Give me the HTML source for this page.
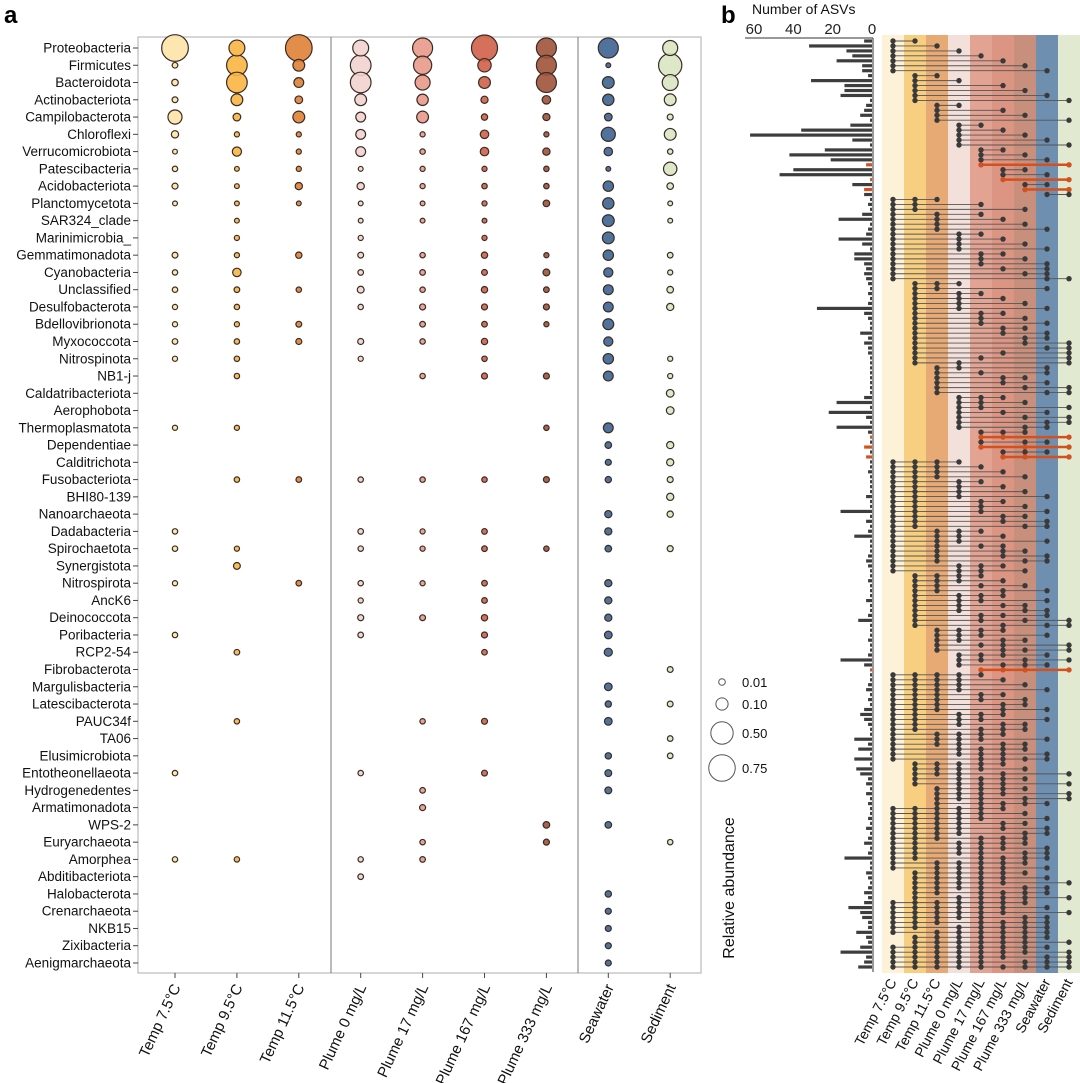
<!DOCTYPE html>
<html><head><meta charset="utf-8">
<style>
html,body{margin:0;padding:0;background:#fff;}
svg{display:block;font-family:"Liberation Sans",sans-serif;}
</style></head>
<body>
<svg id="chart" width="1080" height="1083" viewBox="0 0 1080 1083" xmlns="http://www.w3.org/2000/svg">
<text x="4" y="23" font-size="24" font-weight="bold">a</text>
<text x="721" y="23" font-size="24" font-weight="bold">b</text>
<g id="pa"></g>
<g id="pb"></g>
</svg>
<script>
const phyla = ["Proteobacteria","Firmicutes","Bacteroidota","Actinobacteriota","Campilobacterota","Chloroflexi","Verrucomicrobiota","Patescibacteria","Acidobacteriota","Planctomycetota","SAR324_clade","Marinimicrobia_","Gemmatimonadota","Cyanobacteria","Unclassified","Desulfobacterota","Bdellovibrionota","Myxococcota","Nitrospinota","NB1-j","Caldatribacteriota","Aerophobota","Thermoplasmatota","Dependentiae","Calditrichota","Fusobacteriota","BHI80-139","Nanoarchaeota","Dadabacteria","Spirochaetota","Synergistota","Nitrospirota","AncK6","Deinococcota","Poribacteria","RCP2-54","Fibrobacterota","Margulisbacteria","Latescibacterota","PAUC34f","TA06","Elusimicrobiota","Entotheonellaeota","Hydrogenedentes","Armatimonadota","WPS-2","Euryarchaeota","Amorphea","Abditibacteriota","Halobacterota","Crenarchaeota","NKB15","Zixibacteria","Aenigmarchaeota"];
const samples = ["Temp 7.5°C","Temp 9.5°C","Temp 11.5°C","Plume 0 mg/L","Plume 17 mg/L","Plume 167 mg/L","Plume 333 mg/L","Seawater","Sediment"];
const abundance = [
[.76,.21,.76,.21,.38,.72,.38,.38,.18],
[.004,.41,.09,.41,.30,.13,.38,.001,.55],
[.01,.41,.05,.41,.18,.09,.38,.09,.21],
[.005,.09,.02,.09,.08,.015,.03,.08,.09],
[.15,.02,.09,.05,.09,.008,.015,.02,.006],
[.016,.002,.002,.05,.002,.03,.002,.15,.09],
[.001,.04,.002,.05,.003,.03,.016,.03,.003],
[.003,.001,.002,.001,.002,.002,.003,.001,.13],
[.006,.001,.016,.016,.002,.003,.003,.06,.01],
[.001,.001,.001,.001,.001,.002,.01,.08,.001],
[0,.001,0,.001,.001,.001,0,.09,.001],
[0,.002,0,.002,0,.002,0,.09,0],
[.005,.002,.008,.005,.003,.008,.002,.06,.004],
[.003,.03,0,.004,.004,.005,.012,.04,.002],
[.003,.004,.003,.012,.003,.008,.004,.05,.01],
[.002,.003,0,.003,.006,.006,.006,.05,.015],
[.002,.002,.005,0,.004,.004,.002,.07,0],
[.004,.003,.006,.006,.003,.008,0,.04,0],
[.002,.003,0,.002,0,.003,0,.06,.002],
[0,.003,0,0,.003,.006,.006,.05,.002],
[0,0,0,0,0,0,0,0,.02],
[0,0,0,0,0,0,0,0,.02],
[.002,.002,0,0,0,0,.003,.05,0],
[0,0,0,0,0,0,0,.01,.015],
[0,0,0,0,0,0,0,.006,.015],
[0,.003,.004,.003,.003,.003,.006,.008,.006],
[0,0,0,0,0,0,0,0,.015],
[0,0,0,0,0,0,0,.015,.008],
[.003,0,0,.004,.002,.004,0,.015,0],
[.003,.002,0,.003,.002,.004,.003,.01,.006],
[0,.012,0,0,0,0,0,0,0],
[.002,0,.004,.003,.002,.004,0,.015,0],
[0,0,0,.002,0,.004,0,.015,0],
[0,0,0,.006,.005,.008,0,.015,0],
[.003,0,0,.004,0,.006,0,.02,0],
[0,.004,0,0,0,.004,0,.025,0],
[0,0,0,0,0,0,0,0,.005],
[0,0,0,0,0,0,0,.02,0],
[0,0,0,0,0,0,0,.008,.005],
[0,.003,0,0,.003,.006,0,.02,0],
[0,0,0,0,0,0,0,0,.004],
[0,0,0,0,0,0,0,.008,.004],
[.003,0,0,.003,0,.005,0,.012,0],
[0,0,0,0,.004,0,0,.012,0],
[0,0,0,0,.006,0,0,0,0],
[0,0,0,0,0,0,.01,.01,0],
[0,0,0,0,.003,0,.006,0,.003],
[.003,.003,0,.003,.004,0,0,0,0],
[0,0,0,.004,0,0,0,0,0],
[0,0,0,0,0,0,0,.008,0],
[0,0,0,0,0,0,0,.006,0],
[0,0,0,0,0,0,0,.006,0],
[0,0,0,0,0,0,0,.006,0],
[0,0,0,0,0,0,0,.006,0]];
const legendValues = [0.01,0.10,0.50,0.75];
const legendLabels = ["0.01","0.10","0.50","0.75"];

const intersections = ["12","13","14","15","16","17","18","23","24","26","27","28","29","34","36","37","39","45","46","47","48","49","56","57","58","59","67","68","69","78","79","89",
"123","125","127","135","136","137","138","145","146","147","148","156","157","158","168","178","189",
"234","238","245","246","247","248","256","257","258","267","268","278","279","289","269","259","249",
"348","358","367","368","379","389",
"456","457","459","468","479","489","478",
"567","569","578","579","678","679",
"1234","1235","1236","1237","1245","1246","1247","1248","1256","1257","1258","1267","1268","1278","1345","1346","1348","1356","1367","1368","1378","1456","1457",
"2345","2346","2357","2368","2456","2458","2467","2478","2568","2579","2689",
"3456","3458","3467","3569","3679",
"4568","4579","4678","5679",
"12345","12346","12347","12348","12356","12357","12367","12368","12456","12458","12467","12567","13456","13458","13467","14567","14568","15678",
"23456","23457","23469","24567","24569",
"34567","34569","34579","35678",
"123456","123457","123458","123467","123468","123478","123567","124567","124568","124578","125678","134567","134568",
"234567","234568","234569","234578","235678","245679",
"1234567","1234568","1234569","1234578","1235678","1245678","1345678","2345678","2345679",
"12345678","12345679","12345689","12345789","123456789"];
const asvCounts = [4,32,13,10,18,5,5,2,31,14,14,16,1,3,4,6,1,11,36,62,10,1,24,42,21,3,40,47,1,10,4,4,
1,2,1,5,17,1,2,3,17,5,1,9,9,4,3,4,3,
2,1,2,1,2,28,4,2,1,1,6,2,4,2,2,1,1,
1,1,1,1,1,1,
4,18,1,22,3,1,18,
2,1,1,4,1,3,
1,1,2,1,1,1,1,3,1,1,16,1,3,1,2,9,1,1,1,2,3,2,1,
1,2,1,1,1,3,1,1,2,7,1,
1,1,2,1,1,
2,16,4,1,
1,1,2,3,1,2,1,4,6,4,2,1,1,9,2,7,1,9,
1,8,6,2,3,
1,3,1,2,
1,1,2,1,3,1,2,4,1,2,14,1,1,3,2,1,2,4,2,
4,12,6,5,2,2,8,3,2,
6,16,3,4,7];
const highlighted = ["59","69","79","569","579","679","5679"];
const barTicks = [60,40,20,0];

const NS="http://www.w3.org/2000/svg";
function mk(tag,attrs,parent){const e=document.createElementNS(NS,tag);for(const k in attrs)e.setAttribute(k,attrs[k]);parent.appendChild(e);return e;}

const pa=document.getElementById('pa');
const colorsA=["#fde3a7","#f9b542","#e08136","#f1d3cf","#e8998a","#d0604a","#a0533a","#3d6494","#d8e6c2"];
const AX0=138,AX1=701,AY0=37,AY1=973;
const xA=i=>175+i*61.9;
const yA=j=>48+j*(963-48)/(phyla.length-1);
const rA=v=>2+13*Math.sqrt(v);
let box=mk('rect',{x:AX0,y:AY0,width:AX1-AX0,height:AY1-AY0,fill:'none',stroke:'#bbb','stroke-width':1.2},pa);


[331,578].forEach(sx=>{const l=mk('line',{x1:sx,x2:sx,y1:AY0,y2:AY1,stroke:'#777','stroke-width':1},pa);

});
phyla.forEach((p,j)=>{
  const y=yA(j);
  mk('line',{x1:AX0-5,x2:AX0,y1:y,y2:y,stroke:'#444','stroke-width':1},pa);
  const t=mk('text',{x:AX0-7,y:y+4.5,'font-size':13.5,'text-anchor':'end',fill:'#111'},pa);
  t.textContent=p;
  
  
});
samples.forEach((s,i)=>{
  const x=xA(i);
  mk('line',{x1:x,x2:x,y1:AY1,y2:AY1+5,stroke:'#444','stroke-width':1},pa);
  const t=mk('text',{x:0,y:0,'font-size':15,'text-anchor':'end',fill:'#111',transform:`translate(${x+6},${AY1+14}) rotate(-65)`},pa);
  t.textContent=s;
  
  
});
const pts=[];
abundance.forEach((row,j)=>row.forEach((v,i)=>{if(v>0)pts.push([i,j,v]);}));
pts.sort((a,b)=>b[2]-a[2]);
pts.forEach(([i,j,v])=>{
  const c=mk('circle',{cx:xA(i),cy:yA(j),r:rA(v),fill:colorsA[i],stroke:'#3a2c24','stroke-width':1.2,'fill-opacity':0.9},pa);
  
  
});
const legY=[682,704,733,768];
legendValues.forEach((v,k)=>{
  const c=mk('circle',{cx:722,cy:legY[k],r:rA(v),fill:'none',stroke:'#555','stroke-width':1},pa);
  
  
  const t=mk('text',{x:742,y:legY[k]+5,'font-size':13,fill:'#111'},pa);
  t.textContent=legendLabels[k];
  
  
});
const lt=mk('text',{x:0,y:0,'font-size':16,'text-anchor':'middle',fill:'#111',transform:'translate(734,888) rotate(-90)'},pa);
lt.textContent='Relative abundance';



const pb=document.getElementById('pb');
const bandColors=["#fdf1d8","#f8cf80","#e8aa74","#f3e0da","#e3a393","#dc9583","#c98f7d","#6f8fb0","#e1e9d0"];
const xB=i=>893+i*22;
const yB=k=>41+k*(967-41)/(intersections.length-1);
const xBar=v=>872-v*(872-754)/60;
bandColors.forEach((c,i)=>{const r=mk('rect',{x:xB(i)-11,y:35,width:22,height:938,fill:c},pb);

});
mk('line',{x1:745,x2:873,y1:38,y2:38,stroke:'#333','stroke-width':1},pb);
barTicks.forEach(v=>{const t=mk('text',{x:xBar(v),y:34,'font-size':15,'text-anchor':'middle',fill:'#222'},pb);
t.textContent=v;

});
const at=mk('text',{x:752,y:14,'font-size':14,fill:'#111'},pb);
at.textContent='Number of ASVs';


mk('line',{x1:873,x2:873,y1:38,y2:972,stroke:'#333','stroke-width':1},pb);
intersections.forEach((s,k)=>{
  const y=yB(k);
  const hi=highlighted.includes(s);
  const col=hi?'#d4501e':'#3a3a3a';
  const b=mk('rect',{x:xBar(asvCounts[k]),y:y-1.6,width:872-xBar(asvCounts[k]),height:3.2,fill:hi?'#d4501e':'#3d3d3d'},pb);
  
  
  const idx=s.split('').map(d=>+d-1);
  const mn=Math.min(...idx),mx=Math.max(...idx);
  const l=mk('line',{x1:xB(mn),x2:xB(mx),y1:y,y2:y,stroke:hi?'#d4501e':'#555','stroke-width':hi?2.5:0.9},pb);
  
  
  idx.forEach(i=>{const d=mk('circle',{cx:xB(i),cy:y,r:2.7,fill:col},pb);
  
  });
});
samples.forEach((s,i)=>{
  const t=mk('text',{x:0,y:0,'font-size':14,'text-anchor':'end',fill:'#111',transform:`translate(${xB(i)+4},${982}) rotate(-62)`},pb);
  t.textContent=s;
  
  
});
</script>
</body></html>
